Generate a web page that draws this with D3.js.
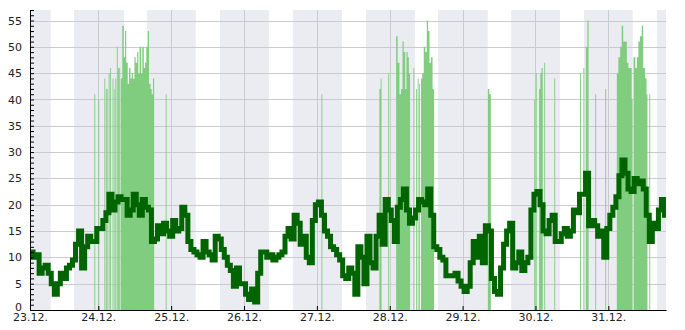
<!DOCTYPE html>
<html>
<head>
<meta charset="utf-8">
<script src="https://cdn.jsdelivr.net/npm/d3@7"></script>
<style>
body { margin: 0; background: #fff; }
text { font-family: "DejaVu Sans", sans-serif; }
</style>
</head>
<body>
<div id="chart"></div>
<script>
var parseTime = d3.timeParse("%Y-%m-%dT%H:%M");
var startDay = parseTime("2023-12-23T00:00");
function atHour(h) { return new Date(startDay.getTime() + h * 3600000); }

// view window, hours after 23.12. 00:00
var viewHours = [1.5, 211];

// dark line, one reading per hour starting 23.12. 01:00
var lineStartHour = 1;
var lineValues = [
  11, 11, 10, 10.5, 7, 8, 8.5, 7, 5, 3, 5, 7, 6, 8, 8.5, 9.5, 12.5, 15, 8, 12,
  14, 13, 13, 15.5, 15.5, 17, 18.5, 22, 19, 20.5, 21.5, 21, 21, 18, 19, 22, 20, 18, 21, 19.5,
  19, 13, 13.5, 16, 14.5, 16.5, 15, 14, 17, 15, 15.5, 19.5, 18, 13, 11.5, 11, 10.5, 10, 13, 11,
  10.5, 9.5, 14, 13.5, 11.5, 10, 8.5, 7.5, 4.5, 8, 5, 5, 3, 2, 4, 1.5, 7, 11, 11, 10,
  10.5, 9.5, 10, 10.5, 11, 14, 15.5, 13.5, 18, 16.5, 12.5, 14, 10, 9, 17, 20, 20.5, 18, 15, 14,
  12, 11.5, 10.5, 9.5, 6.5, 6, 8, 7, 3, 12, 10, 5, 14, 9, 8, 14, 18, 12.5, 21, 19,
  17, 13, 19.5, 21, 23, 19, 16.5, 17.5, 19, 21, 20.5, 20, 23, 18, 12, 11.5, 10, 9.5, 6.5, 6.5,
  6.5, 7, 5.5, 4.5, 3.5, 4.5, 9, 13, 10, 14, 9, 16, 15, 6, 3.5, 3, 8, 12.5, 15, 16.5,
  8, 9, 11, 7.5, 9, 10, 19, 22, 22.5, 20, 15, 14.5, 17, 18, 13, 13, 14.5, 15.5, 14, 15,
  19, 18.5, 22, 22, 26, 16, 17, 16, 14, 15, 10, 15.5, 18, 19.5, 21.5, 25.5, 28.5, 26, 23, 22.5,
  25, 24, 24.5, 23, 18, 13, 16.5, 15.5, 19, 21, 18
];

// light green spikes: [hour, value], value 0 closes a spike
var spikes = [
  [22.7, 41], [23.0, 0], [24.0, 40], [24.3, 0], [26.0, 44], [26.3, 0], [26.5, 42], [26.8, 0],
  [27.0, 42], [27.2, 0], [27.4, 45], [27.7, 0], [27.9, 46], [28.2, 0], [28.7, 44], [29.0, 0],
  [29.3, 42], [29.5, 0], [29.6, 44], [29.9, 0], [30.1, 50], [30.4, 0], [30.5, 46], [30.8, 0],
  [30.9, 46], [31.2, 0],
  [31.4, 44], [31.9, 54], [32.4, 48], [32.8, 53], [33.2, 47], [33.7, 43], [34.1, 46], [34.6, 44],
  [35.0, 45], [35.4, 44], [35.9, 48], [36.3, 47], [36.8, 49], [37.2, 45], [37.6, 50], [38.1, 45],
  [38.5, 50], [39.0, 46], [39.4, 47], [39.8, 50], [40.3, 53], [40.7, 43], [41.2, 42], [41.6, 41],
  [42.0, 44], [42.4, 0],
  [46.2, 41], [46.5, 0], [97.5, 41], [97.8, 0],
  [116.6, 42], [117.0, 44], [117.3, 0], [119.5, 45], [119.8, 0],
  [122.1, 52], [122.6, 47], [123.2, 41], [123.7, 42], [124.2, 51], [124.6, 49], [125.1, 42],
  [125.5, 49], [125.9, 48], [126.3, 45], [126.7, 0],
  [127.8, 46], [128.1, 0], [128.7, 42], [129.0, 0], [129.2, 44], [129.5, 0], [129.7, 43], [130.0, 0],
  [130.3, 44], [130.7, 45], [131.2, 50], [131.7, 49], [132.2, 55], [132.6, 53], [133.1, 47],
  [133.6, 48], [134.1, 42], [134.6, 0],
  [152.3, 42], [152.8, 41], [153.3, 0],
  [167.6, 40], [167.9, 0], [168.1, 45], [168.4, 0],
  [169.2, 42], [169.6, 45], [170.0, 46], [170.4, 0], [170.9, 47], [171.2, 0],
  [174.2, 44], [174.5, 0], [182.7, 45], [183.0, 0], [183.8, 46], [184.1, 0],
  [184.6, 50], [185.1, 55], [185.5, 0], [187.7, 41], [188.0, 0], [191.0, 42], [191.3, 0],
  [194.8, 45], [195.3, 48], [195.9, 50], [196.4, 54], [196.9, 51], [197.5, 51], [198.1, 47],
  [198.6, 46], [199.2, 46], [199.7, 40], [200.0, 0],
  [200.3, 48], [200.9, 46], [201.4, 48], [201.9, 51], [202.4, 52], [203.0, 54], [203.5, 46],
  [204.1, 44], [204.6, 41], [204.9, 0],
  [205.5, 41], [205.8, 0]
];

// shaded night bands
var nightBands = [
  ["2023-12-22T16:00", "2023-12-23T08:20"],
  ["2023-12-23T16:00", "2023-12-24T08:28"],
  ["2023-12-24T16:03", "2023-12-25T08:05"],
  ["2023-12-25T16:05", "2023-12-26T08:14"],
  ["2023-12-26T16:07", "2023-12-27T08:16"],
  ["2023-12-27T16:10", "2023-12-28T08:19"],
  ["2023-12-28T15:55", "2023-12-29T08:17"],
  ["2023-12-29T16:00", "2023-12-30T08:06"],
  ["2023-12-30T16:00", "2023-12-31T08:02"],
  ["2023-12-31T16:00", "2024-01-01T08:15"]
];

var dayTicks = ["2023-12-24T00:00", "2023-12-25T00:00", "2023-12-26T00:00", "2023-12-27T00:00",
  "2023-12-28T00:00", "2023-12-29T00:00", "2023-12-30T00:00", "2023-12-31T00:00"];

var yMax = 57;

var width = 685, height = 330;
var margin = { top: 10, right: 19, bottom: 20, left: 30 };
var w = width - margin.left - margin.right,
    h = height - margin.top - margin.bottom;

var svg = d3.select("#chart").append("svg")
    .attr("width", width)
    .attr("height", height);

svg.append("defs").append("clipPath").attr("id", "plotclip")
    .append("rect").attr("width", w).attr("height", h);

var g = svg.append("g")
    .attr("transform", "translate(" + margin.left + "," + margin.top + ")");

var x = d3.scaleTime()
    .domain([atHour(viewHours[0]), atHour(viewHours[1])])
    .range([0, w]);
var y = d3.scaleLinear().domain([0, yMax]).range([h, 0]);

var plot = g.append("g").attr("clip-path", "url(#plotclip)");

// night bands
plot.selectAll("rect.band")
    .data(nightBands)
    .enter().append("rect")
    .attr("class", "band")
    .attr("x", function (d) { return x(parseTime(d[0])); })
    .attr("width", function (d) { return x(parseTime(d[1])) - x(parseTime(d[0])); })
    .attr("y", 0)
    .attr("height", h)
    .attr("fill", "#ebecf1");

// grid
var tickDates = dayTicks.map(parseTime);
plot.selectAll("line.vgrid")
    .data(tickDates)
    .enter().append("line")
    .attr("x1", function (d) { return Math.round(x(d)) + 0.5; })
    .attr("x2", function (d) { return Math.round(x(d)) + 0.5; })
    .attr("y1", 0).attr("y2", h)
    .attr("stroke", "#cbcbcf").attr("stroke-width", 1);
plot.selectAll("line.hgrid")
    .data(d3.range(5, yMax, 5))
    .enter().append("line")
    .attr("x1", 0).attr("x2", w)
    .attr("y1", function (d) { return Math.round(y(d)) + 0.5; })
    .attr("y2", function (d) { return Math.round(y(d)) + 0.5; })
    .attr("stroke", "#cbcbcf").attr("stroke-width", 1);

// light green spikes
plot.append("path")
    .datum(spikes)
    .attr("d", d3.area()
        .curve(d3.curveStepAfter)
        .x(function (d) { return x(atHour(d[0])); })
        .y0(h)
        .y1(function (d) { return y(d[1]); }))
    .attr("fill", "#80cd80");

// dark green line
plot.append("path")
    .datum(lineValues)
    .attr("d", d3.line()
        .curve(d3.curveStep)
        .x(function (d, i) { return x(atHour(lineStartHour + i)); })
        .y(function (d) { return y(d); }))
    .attr("fill", "none")
    .attr("stroke", "#006400")
    .attr("stroke-width", 5)
    .attr("stroke-linejoin", "miter");

// x axis
var xAxis = g.append("g")
    .attr("transform", "translate(0," + h + ")")
    .call(d3.axisBottom(x)
        .tickValues([atHour(viewHours[0])].concat(tickDates))
        .tickFormat(d3.timeFormat("%d.%m."))
        .tickSizeInner(-4)
        .tickSizeOuter(0)
        .tickPadding(3));
xAxis.selectAll("text").style("font-size", "11px").attr("fill", "#222");
xAxis.select(".domain").attr("stroke", "#000");
xAxis.selectAll(".tick line").attr("stroke", "#000");

// y axis, small ticks every unit, labels every 5
var yAxis = g.append("g")
    .call(d3.axisLeft(y)
        .tickValues(d3.range(0, yMax + 1))
        .tickFormat(function (d) { return d % 5 === 0 ? d : ""; })
        .tickSizeInner(-4)
        .tickSizeOuter(0)
        .tickPadding(8));
yAxis.selectAll("text").style("font-size", "11px").attr("fill", "#222");
// the 0 label sits a little higher, clear of the first date
yAxis.selectAll(".tick text").filter(function (d) { return d === 0; }).attr("dy", "0.05em");
yAxis.select(".domain").attr("stroke", "#000");
yAxis.selectAll(".tick line").attr("stroke", "#000");
</script>
</body>
</html>
